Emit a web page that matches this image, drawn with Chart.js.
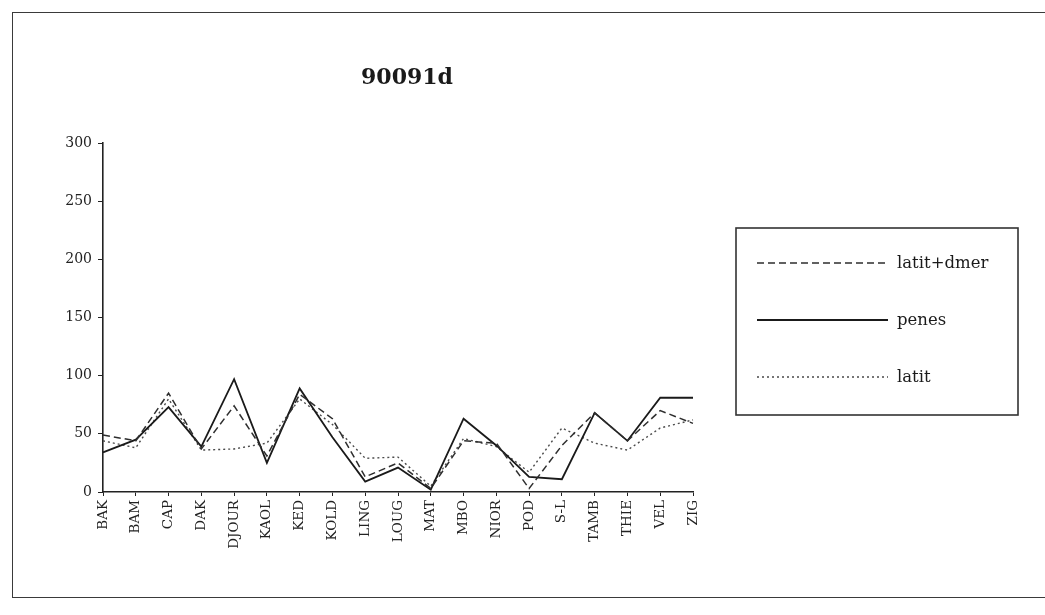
<!DOCTYPE html>
<html>
<head>
<meta charset="utf-8">
<script src="https://cdn.jsdelivr.net/npm/chart.js@4.4.1/dist/chart.umd.min.js"></script>
<style>
  html, body { margin: 0; padding: 0; background: #fff; overflow: hidden; }
  #cadre { position: absolute; left: 12px; top: 12px; width: 1100px; height: 584px; border: 1.8px solid #3a3a3a; }
  #graphique { position: absolute; left: 0; top: 0; }
</style>
</head>
<body>
<div id="cadre"></div>
<canvas id="graphique" width="1045" height="615"></canvas>
<script>
const regions = ['BAK', 'BAM', 'CAP', 'DAK', 'DJOUR', 'KAOL', 'KED', 'KOLD', 'LING', 'LOUG',
  'MAT', 'MBO', 'NIOR', 'POD', 'S-L', 'TAMB', 'THIE', 'VEL', 'ZIG'];
const latitDmer = [49, 44, 85, 37, 74, 31, 84, 63, 13, 25, 3, 44, 42, 3, 40, 68, 44, 70, 59];
const penes = [34, 45, 73, 39, 97, 25, 89, 47, 9, 21, 2, 63, 40, 13, 11, 68, 44, 81, 81];
const latit = [44, 38, 80, 36, 37, 42, 80, 58, 29, 30, 5, 46, 39, 17, 55, 42, 36, 55, 62];
const ticksY = [0, 50, 100, 150, 200, 250, 300];
const titre = '90091d';

const police = '"DejaVu Serif", "Liberation Serif", serif';

// titre + cadre de légende dessinés à la main
const decor = {
  id: 'decor',
  afterDraw(chart) {
    const ctx = chart.ctx;
    ctx.save();
    ctx.fillStyle = '#1a1a1a';
    ctx.font = 'bold 22px ' + police;
    ctx.textAlign = 'center';
    ctx.textBaseline = 'middle';
    ctx.fillText(titre, 407, 78);

    ctx.strokeStyle = '#333';
    ctx.lineWidth = 1.6;
    ctx.strokeRect(736, 228, 282, 187);

    ctx.font = '16.5px ' + police;
    ctx.textAlign = 'left';
    chart.data.datasets.forEach((ds, i) => {
      const y = 263 + i * 57;
      ctx.beginPath();
      ctx.setLineDash(ds.borderDash || []);
      ctx.strokeStyle = ds.borderColor;
      ctx.lineWidth = ds.borderWidth;
      ctx.moveTo(757, y);
      ctx.lineTo(888, y);
      ctx.stroke();
      ctx.setLineDash([]);
      ctx.fillStyle = '#1a1a1a';
      ctx.fillText(ds.label, 897, y + 1);
    });
    ctx.restore();
  }
};

const ctx = document.getElementById('graphique').getContext('2d');
new Chart(ctx, {
  type: 'line',
  data: {
    labels: regions,
    datasets: [
      { label: 'latit+dmer', data: latitDmer, borderColor: '#2e2e2e', borderWidth: 1.5, borderDash: [7, 4] },
      { label: 'penes', data: penes, borderColor: '#1a1a1a', borderWidth: 1.8 },
      { label: 'latit', data: latit, borderColor: '#4a4a4a', borderWidth: 1.4, borderDash: [2, 3] }
    ]
  },
  options: {
    responsive: false,
    animation: false,
    devicePixelRatio: 1,
    elements: { point: { radius: 0 }, line: { tension: 0, fill: false } },
    layout: { padding: { left: 0, right: 352, top: 143, bottom: 0 } },
    scales: {
      x: {
        offset: false,
        afterFit: scale => { scale.height = 123; },
        ticks: {
          autoSkip: false, minRotation: 90, maxRotation: 90,
          color: '#222', padding: 4,
          font: { family: police, size: 13.5 }
        },
        grid: { drawOnChartArea: false, tickLength: 4, color: '#222' },
        border: { color: '#222', width: 1.6 }
      },
      y: {
        min: 0,
        max: 300,
        afterFit: scale => { scale.width = 103; },
        afterBuildTicks: scale => { scale.ticks = ticksY.map(v => ({ value: v })); },
        ticks: { color: '#222', padding: 6, font: { family: police, size: 14 } },
        grid: { drawOnChartArea: false, tickLength: 5, color: '#222' },
        border: { color: '#222', width: 1.6 }
      }
    },
    plugins: {
      legend: { display: false },
      title: { display: false },
      tooltip: { enabled: false }
    }
  },
  plugins: [decor]
});
</script>
</body>
</html>
